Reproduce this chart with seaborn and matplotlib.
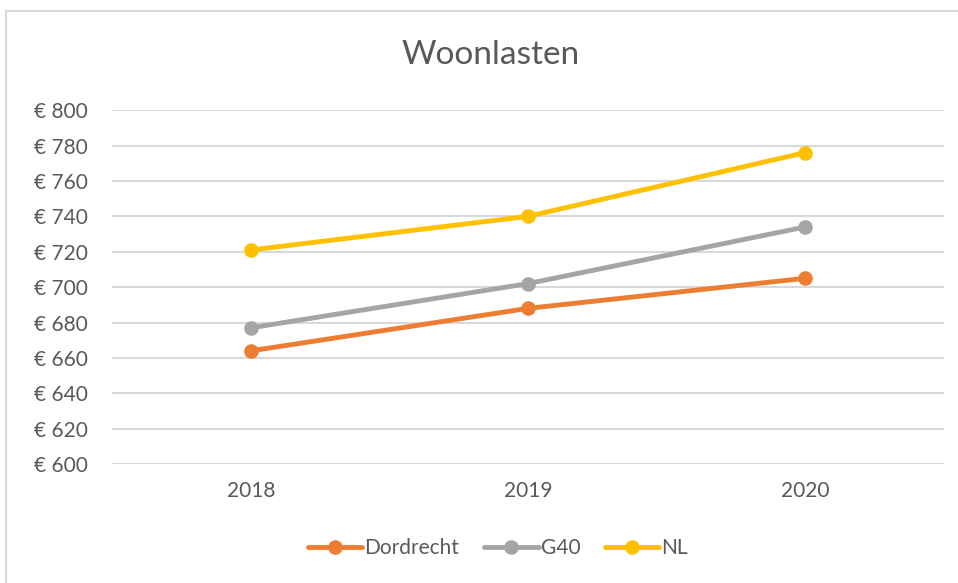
import pandas as pd
import seaborn as sns
import matplotlib.pyplot as plt
from matplotlib.patches import Rectangle
from matplotlib.ticker import FuncFormatter


jaren = ['2018', '2019', '2020']
dordrecht = [664, 688, 705]
g40 = [677, 702, 734]
nl = [721, 740, 776]

reeksen = ['Dordrecht', 'G40', 'NL']
kleuren = ['#ED7D31', '#A5A5A5', '#FFC000']

df = pd.DataFrame({
    'jaar': jaren * 3,
    'woonlasten': dordrecht + g40 + nl,
    'reeks': [r for r in reeksen for _ in jaren],
})

sns.set_style('white')
plt.rcParams['font.family'] = ['Lato', 'DejaVu Sans']
tekst = '#595959'

fig = plt.figure(figsize=(9.58, 5.83), dpi=100)
ax = fig.add_axes([0.1174, 0.204, 0.8676, 0.607])

# chart border (only left and top are visible in the screenshot)
fig.patches.append(Rectangle((0.006, -0.1), 1.2, 1.081, transform=fig.transFigure,
                             fill=False, edgecolor='#D9D9D9', linewidth=1.5))

sns.lineplot(data=df, x='jaar', y='woonlasten', hue='reeks', hue_order=reeksen,
             palette=kleuren, marker='o', markersize=10.5, markeredgewidth=0,
             linewidth=3.5, ax=ax)

ax.set_xlim(-0.5, 2.5)
ax.set_ylim(600, 800)
ax.set_yticks(range(600, 801, 20))
ax.yaxis.set_major_formatter(FuncFormatter(lambda v, p: f'€ {int(v)}'))
ax.grid(axis='y', color='#D9D9D9', linewidth=1.5)
ax.grid(axis='x', visible=False)
ax.set_axisbelow(True)
sns.despine(ax=ax, left=True, bottom=True)
ax.tick_params(axis='both', length=0, labelsize=15, colors=tekst)
ax.tick_params(axis='x', pad=12)
ax.tick_params(axis='y', pad=18)
ax.set_xlabel('')
ax.set_ylabel('')

fig.text(0.512, 0.905, 'Woonlasten', ha='center', va='center', fontsize=24, color=tekst)

handles, labels = ax.get_legend_handles_labels()
ax.legend(handles, labels, loc='center', bbox_to_anchor=(0.52, 0.06),
          bbox_transform=fig.transFigure, ncol=3, frameon=False,
          fontsize=15, labelcolor=tekst, handlelength=2.6, handletextpad=0.1,
          columnspacing=1.2)

plt.savefig('out.png', dpi=100)
